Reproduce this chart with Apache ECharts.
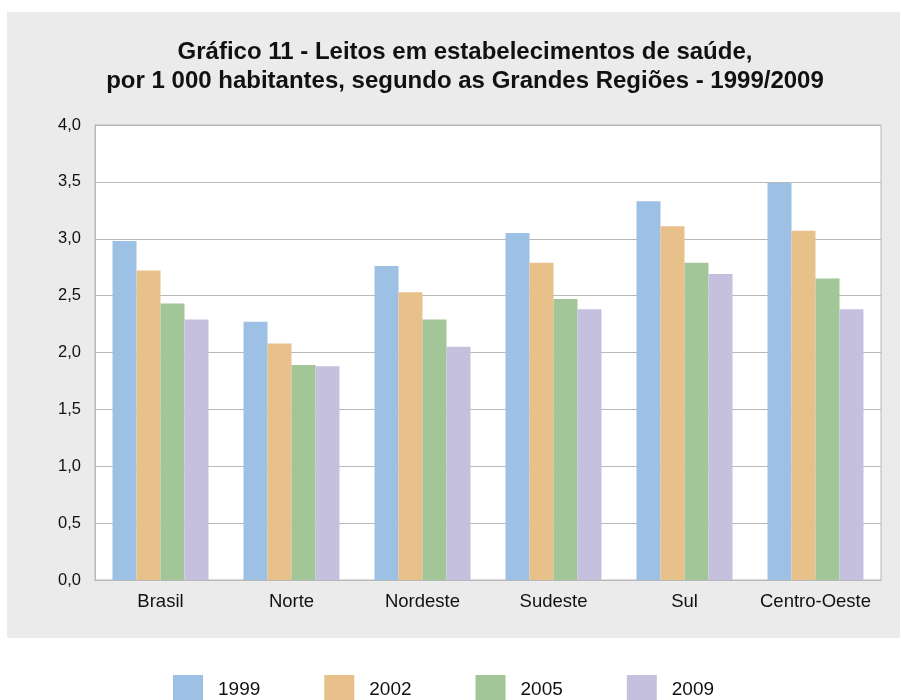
<!DOCTYPE html>
<html>
<head>
<meta charset="utf-8">
<script src="https://cdn.jsdelivr.net/npm/echarts@6/dist/echarts.min.js"></script>
<style>
  html, body { margin: 0; padding: 0; background: #fff; }
  #chart { width: 901px; height: 700px; }
</style>
</head>
<body>
<div id="chart"></div>
<script>
const regions = ['Brasil', 'Norte', 'Nordeste', 'Sudeste', 'Sul', 'Centro-Oeste']
const years = ['1999', '2002', '2005', '2009']
const v1999 = [2.98, 2.27, 2.76, 3.05, 3.33, 3.49]
const v2002 = [2.72, 2.08, 2.53, 2.79, 3.11, 3.07]
const v2005 = [2.43, 1.89, 2.29, 2.47, 2.79, 2.65]
const v2009 = [2.29, 1.88, 2.05, 2.38, 2.69, 2.38]
const yTicks = [0, 0.5, 1, 1.5, 2, 2.5, 3, 3.5, 4]

const colors = ['#9dc0e5', '#e8c08a', '#a2c697', '#c5c0dd']
const seriesValues = [v1999, v2002, v2005, v2009]

const chart = echarts.init(document.getElementById('chart'))

const option = {
  backgroundColor: '#ffffff',
  animation: false,
  graphic: [
    {
      type: 'rect',
      z: -10,
      silent: true,
      shape: { x: 7, y: 12, width: 893, height: 626 },
      style: { fill: '#ebebeb' },
    },
  ],
  title: {
    text: 'Gráfico 11 - Leitos em estabelecimentos de saúde,\npor 1 000 habitantes, segundo as Grandes Regiões - 1999/2009',
    left: 460,
    textAlign: 'center',
    top: 33,
    textStyle: {
      fontFamily: 'Liberation Sans',
      fontWeight: 'bold',
      fontSize: 24,
      lineHeight: 29,
      color: '#111111',
    },
  },
  legend: {
    data: years,
    left: 173,
    top: 675,
    padding: 0,
    itemWidth: 30,
    itemHeight: 30,
    itemGap: 64,
    icon: 'rect',
    textStyle: {
      fontFamily: 'Liberation Sans',
      fontSize: 19,
      color: '#111111',
      padding: [3, 0, 0, 10],
    },
  },
  grid: {
    left: 95,
    right: 20,
    top: 125,
    bottom: 120,
    show: true,
    backgroundColor: '#ffffff',
    borderColor: '#b8b8b8',
    borderWidth: 1,
  },
  xAxis: {
    type: 'category',
    data: regions,
    axisLine: { lineStyle: { color: '#b8b8b8', width: 1 } },
    axisTick: { show: false },
    axisLabel: {
      interval: 0,
      fontFamily: 'Liberation Sans',
      fontSize: 18.5,
      color: '#111111',
      margin: 12,
    },
  },
  yAxis: {
    type: 'value',
    min: 0,
    max: 4,
    interval: 0.5,
    axisLine: { show: true, lineStyle: { color: '#b8b8b8' } },
    axisTick: { show: false },
    splitLine: { lineStyle: { color: '#b8b8b8', width: 1 } },
    axisLabel: {
      fontFamily: 'Liberation Sans',
      fontSize: 16.5,
      color: '#111111',
      margin: 14,
      formatter: (v) => (yTicks.includes(v) ? v.toFixed(1).replace('.', ',') : ''),
    },
  },
  series: years.map((y, i) => ({
    name: y,
    type: 'bar',
    data: seriesValues[i],
    barWidth: 24,
    barGap: '0%',
    itemStyle: { color: colors[i] },
  })),
}

chart.setOption(option)
</script>
</body>
</html>
